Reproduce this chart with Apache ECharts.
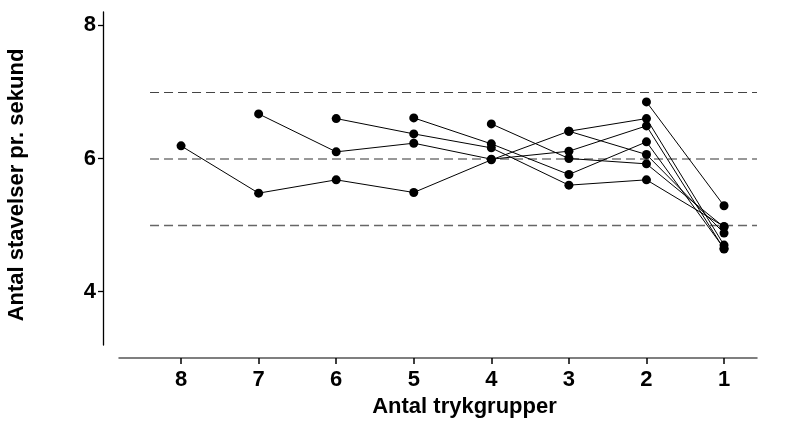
<!DOCTYPE html>
<html>
<head>
<meta charset="utf-8">
<script src="https://cdn.jsdelivr.net/npm/echarts@6/dist/echarts.min.js"></script>
<style>
html,body{margin:0;padding:0;background:#fff;}
#chart{width:799px;height:421px;}
</style>
</head>
<body>
<div id="chart"></div>
<script>
// Categories (number of stress groups), left to right
const categories = [8, 7, 6, 5, 4, 3, 2, 1];
// Series values aligned with categories (null = no point)
const s8 = [6.19, 5.48, 5.68, 5.49, 5.98, 6.41, 6.60, 4.70];
const s7 = [null, 6.67, 6.10, 6.23, 5.99, 6.11, 6.49, 4.64];
const s6 = [null, null, 6.60, 6.37, 6.16, 5.60, 5.68, 4.98];
const s5 = [null, null, null, 6.61, 6.22, 5.76, 6.25, 4.65];
const s4 = [null, null, null, null, 6.52, 6.00, 5.92, 4.97];
const s3 = [null, null, null, null, null, 6.41, 6.06, 4.88];
const s2 = [null, null, null, null, null, null, 6.85, 5.29];
const allSeries = [s8, s7, s6, s5, s4, s3, s2];
// Reference (dashed) levels
const refLevels = [7, 6, 5];
// Tick labels
const yTicks = [4, 6, 8];
const xTicks = categories;

const font = '"Liberation Sans", Arial, sans-serif';

function toPairs(arr) {
  const out = [];
  arr.forEach((v, i) => { if (v !== null) out.push([categories[i], v]); });
  return out;
}

const refStyles = {7: {color: '#444', width: 1.1}, 6: {color: '#777', width: 1.5}, 5: {color: '#666', width: 1.3}};

const series = allSeries.map((arr, idx) => {
  const s = {
    type: 'line',
    data: toPairs(arr),
    symbol: 'circle',
    symbolSize: 9,
    itemStyle: {color: '#000'},
    lineStyle: {color: '#000', width: 1},
    z: 3,
    emphasis: {disabled: true}
  };
  if (idx === 0) {
    s.markLine = {
      silent: true,
      symbol: ['none', 'none'],
      label: {show: false},
      z: 1,
      data: refLevels.map(l => [
        {coord: [8.4, l], lineStyle: {color: refStyles[l].color, width: refStyles[l].width, type: [9, 5]}},
        {coord: [0.575, l]}
      ])
    };
  }
  return s;
});

const chart = echarts.init(document.getElementById('chart'), null, {renderer: 'canvas'});
chart.setOption({
  animation: false,
  backgroundColor: '#fff',
  grid: {left: 119, right: 42, top: 12, bottom: 76, containLabel: false, outerBoundsMode: 'none'},
  xAxis: {
    type: 'value',
    inverse: true,
    min: 0.575,
    max: 8.8,
    offset: 13,
    name: 'Antal trykgrupper',
    nameLocation: 'middle',
    nameGap: 38,
    nameTextStyle: {fontFamily: font, fontSize: 22, fontWeight: 'bold', color: '#000', padding: [0, 0, 0, 53]},
    axisLine: {show: true, lineStyle: {color: '#555', width: 1.5}},
    axisTick: {show: true, length: 6, customValues: xTicks, lineStyle: {color: '#000', width: 1.5}},
    axisLabel: {customValues: xTicks, margin: 11, fontFamily: font, fontSize: 22, fontWeight: 'bold', color: '#000'},
    splitLine: {show: false}
  },
  yAxis: {
    type: 'value',
    min: 3.2,
    max: 8.2,
    offset: 16,
    name: 'Antal stavelser pr. sekund',
    nameLocation: 'middle',
    nameGap: 75,
    nameRotate: 90,
    nameTextStyle: {fontFamily: font, fontSize: 22, fontWeight: 'bold', color: '#000', padding: [0, 13, 0, 0]},
    axisLine: {show: true, lineStyle: {color: '#000', width: 1.3}},
    axisTick: {show: true, length: 5, customValues: yTicks, lineStyle: {color: '#000', width: 1.3}},
    axisLabel: {customValues: yTicks, margin: 7, fontFamily: font, fontSize: 22, fontWeight: 'bold', color: '#000'},
    splitLine: {show: false}
  },
  series: series
});
</script>
</body>
</html>
